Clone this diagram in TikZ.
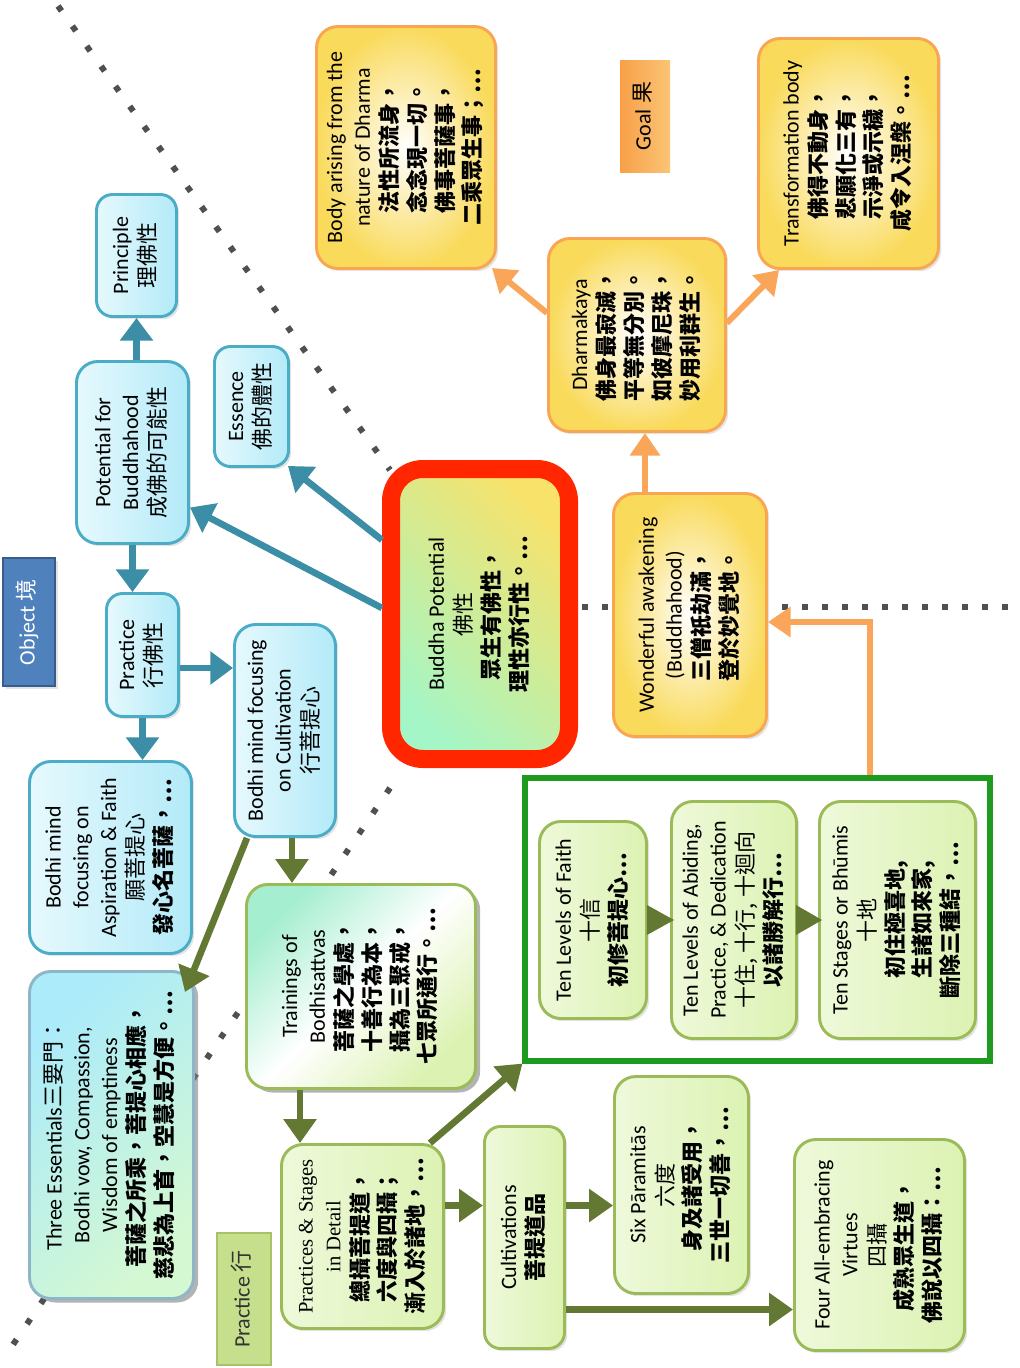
\documentclass[tikz,border=0pt]{standalone}
\usepackage{fontspec}
\usepackage{graphicx}
\setmainfont{Carlito}
\newfontfamily\zhfont{Noto Sans CJK TC}
\newfontfamily\tmfont{Liberation Serif}
\usetikzlibrary{arrows.meta,calc,shadows}

\definecolor{ylwedge}{HTML}{F9A653}
\definecolor{ylwfill}{HTML}{F9DA5B}
\definecolor{bluedge}{HTML}{4BACC6}
\definecolor{bluelft}{HTML}{E6F9FD}
\definecolor{blurgt}{HTML}{B3EAF8}
\definecolor{grnedge}{HTML}{9BBB59}
\definecolor{grnlft}{HTML}{EEF9DA}
\definecolor{grnrgt}{HTML}{DCF2B2}
\definecolor{trmint}{HTML}{A6EED0}
\definecolor{thrtl}{HTML}{ABEBFA}
\definecolor{thrbr}{HTML}{D4F8D2}
\definecolor{thredge}{HTML}{8DB6C9}
\definecolor{bpyel}{HTML}{F8E26A}
\definecolor{bpmint}{HTML}{A4F6C6}
\definecolor{tealln}{HTML}{3B8EA5}
\definecolor{oliveln}{HTML}{637832}
\definecolor{orangeln}{HTML}{F9A65A}
\definecolor{frameg}{HTML}{1E9B1E}
\definecolor{redrim}{HTML}{FF2600}
\definecolor{dotgray}{HTML}{505050}
\definecolor{objfill}{HTML}{4F81BD}
\definecolor{objedge}{HTML}{385D8A}
\definecolor{goall}{HTML}{F8A048}
\definecolor{goalr}{HTML}{FBC475}
\definecolor{pracfill}{HTML}{C5DF8C}
\definecolor{pracedge}{HTML}{A5C468}

% CJK helpers and vertical (rotated) text block
\newcommand{\zhr}[1]{{\zhfont #1}}
\newcommand{\zhb}[1]{{\zhfont\bfseries #1}}
\newcommand{\vtext}[1]{\rotatebox{90}{\begin{tabular}{@{}c@{}}#1\end{tabular}}}

\tikzset{
  sz/.style 2 args={minimum width=#1*0.75pt, minimum height=#2*0.75pt},
  shad/.style={drop shadow={opacity=0.22, shadow xshift=2pt, shadow yshift=-2pt}},
  heavyshad/.style={drop shadow={opacity=0.6, shadow xshift=3.5pt, shadow yshift=-3pt}},
  rbox/.style={rounded corners=16pt, line width=2.2pt, inner sep=0pt,
    font=\fontsize{16.5}{20.8}\selectfont},
  ybox/.style={rbox, shad, draw=ylwedge, inner color=white, outer color=ylwfill},
  bbox/.style={rbox, shad, draw=bluedge, left color=bluelft, right color=blurgt},
  gbox/.style={rbox, shad, draw=grnedge, left color=grnlft, right color=grnrgt},
  tag/.style={inner sep=0pt, font=\fontsize{16.5}{20.8}\selectfont},
  tarrow/.style={draw=tealln, line width=5pt, -{Triangle[length=17pt,width=24pt]}},
  garrow/.style={draw=oliveln, line width=5pt, -{Triangle[length=18pt,width=24pt]}},
  oarrow/.style={draw=orangeln, line width=4.5pt, -{Triangle[length=17pt,width=22pt]}},
  dotline/.style={draw=dotgray, line width=4.5pt, dash pattern=on 4.5pt off 14pt},
  hdotline/.style={draw=dotgray, line width=4.5pt, dash pattern=on 4.5pt off 10.5pt},
}

\begin{document}
\begin{tikzpicture}[x=0.75pt, y=-0.75pt]
\useasboundingbox (0,0) rectangle (1020,1368);

% dotted separators between the three regions
\draw[dotline] (58,6) -- (390,470);
\draw[dotline] (390,788) -- (8,1352);
\draw[hdotline] (582,607) -- (1016,607);

% frame around the ten levels
\node[draw=frameg, line width=3.8pt, sz={465}{283}, inner sep=0pt] (grect) at (757.5,919.5) {};

% goal region
\node[ybox, sz={179}{242}] (body) at (406,147.5)
  {\vtext{Body arising from the\\nature of Dharma\\\zhb{法性所流身，}\\\zhb{念念現一切。}\\\zhb{佛事菩薩事，}\\\zhb{二乘眾生事；…}}};
\node[tag, sz={50}{112}, left color=goall, right color=goalr] (goal) at (645,116)
  {\vtext{Goal \zhr{果}}};
\node[ybox, sz={180}{230}] (trans) at (848.5,153.5)
  {\vtext{Transformation body\\\zhb{佛得不動身，}\\\zhb{悲願化三有，}\\\zhb{示淨或示穢，}\\\zhb{咸令入涅槃。…}}};
\node[ybox, sz={177}{193}] (dharma) at (637,335)
  {\vtext{Dharmakaya\\\zhb{佛身最寂滅，}\\\zhb{平等無分別。}\\\zhb{如彼摩尼珠，}\\\zhb{妙用利群生。}}};
\node[ybox, sz={153}{243}] (wond) at (690,615)
  {\vtext{Wonderful awakening\\(Buddhahood)\\\zhb{三僧祇劫滿，}\\\zhb{登於妙覺地。}}};

% object region
\node[bbox, rounded corners=12pt, sz={80}{122}] (prin) at (136.5,255.5)
  {\vtext{Principle\\\zhr{理佛性}}};
\node[bbox, rounded corners=12pt, sz={74}{120}] (ess) at (251.5,406.5)
  {\vtext{Essence\\\zhr{佛的體性}}};
\node[bbox, sz={112}{182}] (pot) at (132.5,452.5)
  {\vtext{Potential for\\Buddhahood\\\zhr{成佛的可能性}}};
\node[tag, sz={52}{128}, fill=objfill, draw=objedge, line width=1.5pt, text=white, shad] (obj) at (29,622)
  {\vtext{Object \zhr{境}}};
\node[bbox, rounded corners=12pt, sz={72}{123}] (prac) at (142.5,655)
  {\vtext{Practice\\\zhr{行佛性}}};
\node[bbox, sz={101}{212}] (bcult) at (285,730.5)
  {\vtext{Bodhi mind focusing\\on Cultivation\\\zhr{行菩提心}}};
\node[bbox, sz={162}{192}] (basp) at (110.5,857.5)
  {\vtext{Bodhi mind\\focusing on\\Aspiration \& Faith\\\zhr{願菩提心}\\\zhb{發心名菩薩，…}}};

% central node
\node[rbox, draw=redrim, line width=13.5pt, rounded corners=24pt, sz={178}{290},
  top color=bpyel, bottom color=bpmint, shading angle=-45] (bp) at (480,614)
  {\vtext{Buddha Potential\\\zhr{佛性}\\\zhb{眾生有佛性，}\\\zhb{理性亦行性。…}}};

% ten levels
\node[gbox, sz={107}{197}] (tfaith) at (593,920)
  {\vtext{Ten Levels of Faith\\\zhr{十信}\\\zhb{初修菩提心…}}};
\node[gbox, sz={125}{237}] (tabid) at (734,920)
  {\vtext{Ten Levels of Abiding,\\Practice, \& Dedication\\\zhr{十住, 十行, 十迴向}\\\zhb{以諸勝解行…}}};
\node[gbox, sz={156}{237}] (tstage) at (897.5,920)
  {\vtext{Ten Stages or Bhūmis\\\zhr{十地}\\\zhb{初住極喜地,}\\\zhb{生諸如來家,}\\\zhb{斷除三種結，…}}};

% practice region
\node[rbox, heavyshad, draw=thredge, top color=thrtl, bottom color=thrbr, shading angle=45, sz={164}{327}] (three) at (111.5,1135)
  {\vtext{Three Essentials\zhr{三要門：}\\Bodhi vow, Compassion,\\Wisdom of emptiness\\\zhb{菩薩之所乘，菩提心相應，}\\\zhb{慈悲為上首，空慧是方便。…}}};
\node[rbox, heavyshad, draw=grnedge, top color=trmint, bottom color=grnrgt, middle color=white, shading angle=45, sz={229}{204}] (train) at (361,986.5)
  {\vtext{Trainings of\\Bodhisattvas\\\zhb{菩薩之學處，}\\\zhb{十善行為本，}\\\zhb{攝為三聚戒，}\\\zhb{七眾所通行。…}}};
\node[gbox, sz={162}{184}] (pstage) at (362.5,1236.5)
  {\vtext{{\tmfont\fontsize{15.5}{20.8}\selectfont Practices \& Stages}\\{\tmfont\fontsize{15.5}{20.8}\selectfont in Detail}\\\zhb{總攝菩提道，}\\\zhb{六度與四攝；}\\\zhb{漸入於諸地，…}}};
\node[gbox, rounded corners=12pt, sz={80}{222}] (cult) at (524.5,1237.5)
  {\vtext{Cultivations\\\zhb{菩提道品}}};
\node[gbox, sz={134}{217}] (six) at (681.5,1185)
  {\vtext{Six Pāramitās\\\zhr{六度}\\\zhb{身及諸受用，}\\\zhb{三世一切善，…}}};
\node[gbox, sz={170}{211}] (four) at (879.5,1245)
  {\vtext{Four All-embracing\\Virtues\\\zhr{四攝}\\\zhb{成熟眾生道，}\\\zhb{佛說以四攝：…}}};
\node[tag, sz={54}{132}, fill=pracfill, draw=pracedge, line width=1.2pt, text=black!80] (pracl) at (244,1299)
  {\vtext{Practice \zhr{行}}};

% teal connectors (object region)
\draw[tarrow] (prin.south |- pot.north) -- (prin.south);
\draw[tarrow] (pot.south) -- (pot.south |- prac.north);
\coordinate (pc) at ($(prac.east)+(0,13)$);
\draw[tarrow] (pc) -- (pc -| bcult.west);
\draw[tarrow] (prac.south) -- (prac.south |- basp.north);
\draw[tarrow] ($(bp.west)+(0,-6)$) -- ($(pot.east)+(0,55)$);
\draw[tarrow] ($(bp.west)+(0,-74)$) -- ($(ess.south east)+(-2,-2)$);

% olive connectors (practice region)
\coordinate (bc1) at ($(bcult.south)+(7,0)$);
\draw[garrow] (bc1) -- (bc1 |- train.north);
\draw[garrow] ($(bcult.south)+(-38,0)$) -- ($(three.north east)+(-10,22)$);
\coordinate (tr1) at ($(train.south)+(-61,0)$);
\draw[garrow] (tr1) -- (tr1 |- pstage.north);
\draw[garrow] ($(pstage.north east)+(-15,0)$) -- (grect.south west);
\coordinate (ps1) at ($(pstage.east)+(0,-31)$);
\draw[garrow] (ps1) -- (ps1 -| cult.west);
\coordinate (cu1) at ($(cult.east)+(0,-32)$);
\draw[garrow] (cu1) -- (cu1 -| six.west);
\coordinate (cu2) at ($(cult.east)+(0,72)$);
\draw[garrow] (cu2) -- (cu2 -| four.west);
\fill[oliveln] ($(tfaith.east)+(-1,-15)$) -- ($(tfaith.east)+(-1,15)$) -- ($(tabid.west)+(4,0)$) -- cycle;
\fill[oliveln] ($(tabid.east)+(-2,-15)$) -- ($(tabid.east)+(-2,15)$) -- ($(tstage.west)+(4,0)$) -- cycle;

% orange connectors (goal region)
\coordinate (wd1) at ($(wond.north)+(-45,0)$);
\draw[oarrow] (wd1) -- (wd1 |- dharma.south);
\draw[oarrow] ($(dharma.west)+(0,-22)$) -- ($(body.south east)+(-5,-2)$);
\draw[oarrow] ($(dharma.east)+(0,-12)$) -- ($(trans.south west)+(22,0)$);
\coordinate (gw) at ($(grect.north)+(112,0)$);
\draw[oarrow] (gw) |- ($(wond.east)+(0,7)$);
\end{tikzpicture}
\end{document}
